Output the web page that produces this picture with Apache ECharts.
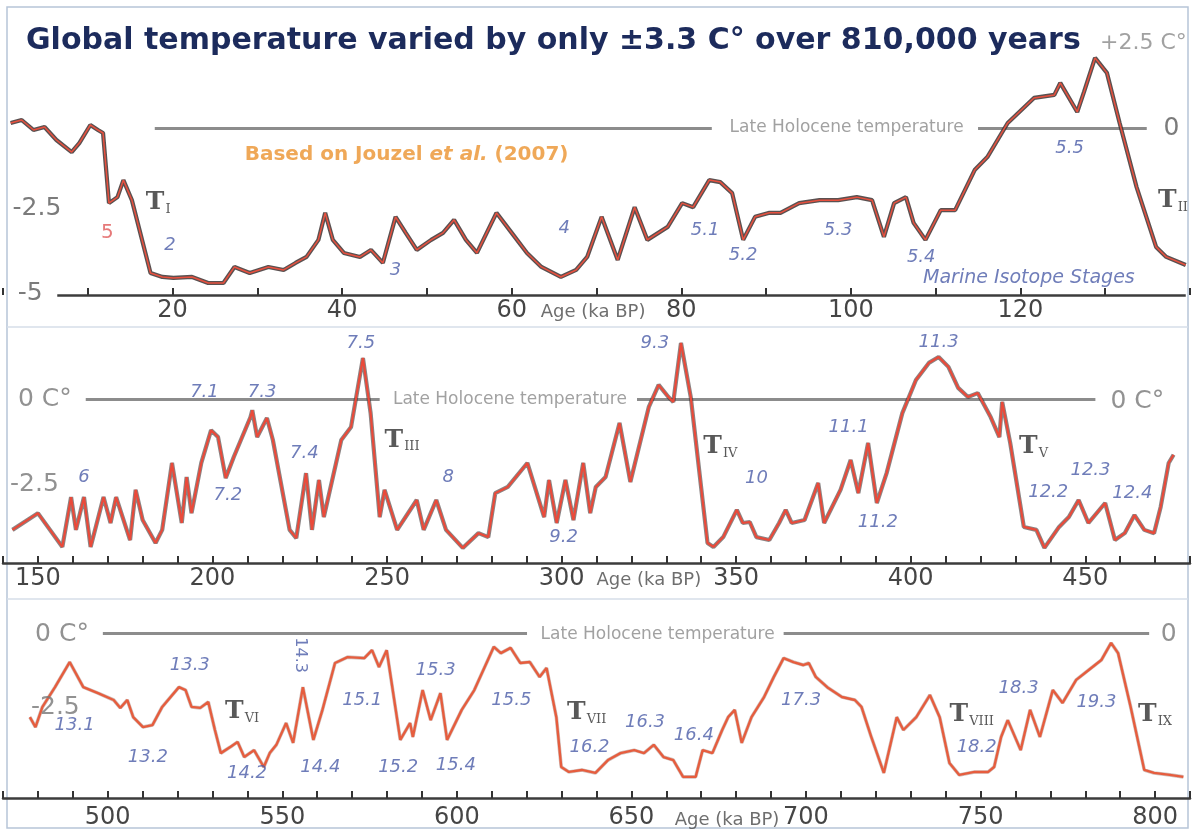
<!DOCTYPE html>
<html><head><meta charset="utf-8">
<script src="https://cdn.jsdelivr.net/npm/echarts@6/dist/echarts.min.js"></script>
<style>html,body{margin:0;padding:0;background:#fff}#c{width:1193px;height:831px}</style>
</head><body><div id="c"></div>
<script>
// ---------- DATA ----------
// Panel 1 : 0 – 140 ka
const ages1 = [0.9,2.2,3.6,4.9,6.3,8.1,9.0,10.3,11.2,11.8,12.5,13.5,14.2,15.2,17.4,18.8,20.1,22.3,24.2,26.0,27.3,29.1,31.3,33.1,34.5,35.8,37.2,38.0,38.9,40.2,42.1,43.4,44.8,46.3,47.5,48.8,50.5,51.9,53.2,54.6,55.9,58.2,60.0,61.8,63.5,65.8,67.6,68.9,70.6,72.5,74.5,76.0,78.4,80.1,81.4,83.3,84.6,86.0,87.3,88.7,90.4,91.7,93.9,96.3,98.5,100.7,102.5,103.9,105.1,106.5,107.4,108.8,110.6,112.3,114.6,116.1,118.5,121.6,124.0,124.7,126.7,127.5,128.8,130.2,131.7,133.7,136.0,137.2,139.5];
const temps1 = [0.15,0.24,-0.06,0.03,-0.36,-0.72,-0.45,0.09,-0.06,-0.15,-2.25,-2.07,-1.56,-2.16,-4.34,-4.46,-4.49,-4.46,-4.64,-4.64,-4.16,-4.34,-4.16,-4.25,-4.04,-3.86,-3.35,-2.54,-3.35,-3.74,-3.86,-3.65,-4.04,-2.66,-3.14,-3.65,-3.35,-3.14,-2.75,-3.35,-3.74,-2.54,-3.14,-3.74,-4.16,-4.46,-4.25,-3.86,-2.66,-3.95,-2.37,-3.35,-2.96,-2.25,-2.37,-1.56,-1.62,-1.95,-3.35,-2.66,-2.54,-2.54,-2.25,-2.16,-2.16,-2.07,-2.16,-3.26,-2.25,-2.07,-2.84,-3.35,-2.46,-2.46,-1.26,-0.87,0.15,0.90,0.99,1.35,0.48,1.08,2.10,1.65,0.15,-1.77,-3.56,-3.86,-4.10];
// Panel 2 : 140 – 475 ka
const ages2 = [142.7,150.0,157.0,159.5,160.9,163.2,165.1,168.8,170.8,172.4,176.4,178.0,180.0,183.7,185.6,188.4,191.2,192.6,194.0,196.8,199.6,201.6,203.8,206.1,210.9,211.4,212.8,215.6,217.3,222.1,224.0,226.8,228.5,230.5,231.9,236.9,239.7,243.1,245.3,247.9,249.3,252.9,258.5,260.5,264.1,266.9,271.7,276.2,279.0,281.0,284.6,290.2,295.0,296.4,298.6,301.1,303.4,306.2,308.2,309.8,312.6,316.6,319.7,325.0,327.8,330.6,332.0,334.2,337.0,341.8,343.5,346.3,350.2,351.9,353.9,355.8,359.5,362.3,364.2,365.9,369.6,373.5,375.2,379.9,382.8,385.0,387.8,390.3,393.1,397.6,401.5,405.2,408.0,410.8,413.6,416.4,419.2,422.9,425.4,426.2,428.5,432.4,436.0,438.3,442.5,445.3,448.1,450.9,455.7,458.5,461.3,464.1,466.9,469.7,471.6,473.9,475.3];
const temps2 = [-3.99,-3.48,-4.51,-2.99,-3.99,-2.99,-4.51,-2.99,-3.78,-2.99,-4.30,-2.77,-3.69,-4.39,-3.99,-1.95,-3.78,-2.38,-3.48,-1.95,-0.95,-1.16,-2.41,-1.77,-0.55,-0.34,-1.16,-0.58,-1.25,-3.99,-4.24,-2.26,-3.99,-2.47,-3.60,-1.25,-0.85,1.25,-0.43,-3.60,-2.77,-3.99,-3.08,-3.99,-3.08,-3.99,-4.54,-4.09,-4.21,-2.87,-2.68,-1.95,-3.60,-2.47,-3.78,-2.47,-3.69,-1.95,-3.48,-2.68,-2.38,-0.73,-2.53,-0.24,0.43,0.06,-0.09,1.71,0.06,-4.39,-4.51,-4.21,-3.38,-3.78,-3.75,-4.21,-4.30,-3.78,-3.38,-3.78,-3.69,-2.56,-3.78,-2.77,-1.86,-2.87,-1.34,-3.17,-2.26,-0.43,0.58,1.10,1.28,0.98,0.34,0.06,0.18,-0.55,-1.16,-0.09,-1.34,-3.90,-3.99,-4.54,-3.90,-3.60,-3.08,-3.78,-3.17,-4.30,-4.09,-3.54,-3.99,-4.09,-3.29,-1.95,-1.70];
// Panel 3 : 475 – 810 ka
const ages3 = [477.7,479.3,481.3,484.9,489.1,493.0,497.2,501.7,503.6,505.6,507.3,510.1,512.8,515.6,520.4,522.3,524.0,526.5,528.8,530.7,532.4,535.2,537.2,539.1,541.9,544.7,546.4,548.3,551.1,553.1,555.9,558.9,561.5,565.1,568.7,573.5,575.7,577.7,579.9,583.8,586.6,587.4,590.2,592.5,595.3,597.2,601.4,605.0,610.6,612.6,615.4,618.2,620.9,623.7,625.7,628.5,629.9,632.1,635.8,639.7,643.3,646.9,650.8,653.6,656.4,659.2,662.0,664.8,668.4,670.4,673.2,676.0,677.7,679.6,681.6,684.4,688.0,690.8,693.6,696.4,699.2,700.8,702.8,706.4,710.3,714.0,715.9,718.7,722.3,726.0,727.9,731.6,735.5,738.3,741.1,743.9,748.3,752.2,753.9,755.9,757.8,761.5,764.2,767.0,770.7,773.5,777.4,781.0,784.6,787.4,789.4,793.0,796.9,799.7,804.2,808.1];
const temps3 = [-2.55,-2.85,-2.24,-1.64,-0.88,-1.64,-1.82,-2.03,-2.27,-2.03,-2.55,-2.85,-2.79,-2.24,-1.64,-1.73,-2.24,-2.27,-2.09,-2.94,-3.64,-3.45,-3.30,-3.76,-3.55,-4.06,-3.64,-3.39,-2.73,-3.33,-1.64,-3.24,-2.33,-0.91,-0.73,-0.76,-0.52,-1.03,-0.52,-3.24,-2.73,-3.15,-1.73,-2.64,-1.82,-3.24,-2.33,-1.73,-0.42,-0.61,-0.45,-0.91,-0.88,-1.33,-1.06,-2.55,-4.06,-4.21,-4.15,-4.24,-3.85,-3.64,-3.55,-3.64,-3.39,-3.76,-3.85,-4.36,-4.36,-3.55,-3.64,-2.94,-2.55,-2.33,-3.33,-2.55,-1.94,-1.33,-0.76,-0.88,-0.97,-0.91,-1.33,-1.67,-1.94,-2.03,-2.24,-3.15,-4.24,-2.55,-2.94,-2.55,-1.88,-2.55,-3.94,-4.30,-4.21,-4.21,-4.06,-3.15,-2.64,-3.55,-2.33,-3.15,-1.73,-2.12,-1.42,-1.12,-0.82,-0.30,-0.61,-2.24,-4.15,-4.24,-4.30,-4.36];

// Marine isotope stage labels [age, temp, text]
const stages1 = [[19.7,-3.50,'2'],[46.3,-4.25,'3'],[66.2,-2.99,'4'],[82.8,-3.05,'5.1'],[87.3,-3.80,'5.2'],[98.5,-3.05,'5.3'],[108.3,-3.86,'5.4'],[125.8,-0.60,'5.5']];
const stages2 = [[163.2,-2.38,'6'],[197.7,0.21,'7.1'],[214.2,0.21,'7.3'],[204.4,-2.93,'7.2'],[226.3,-1.65,'7.4'],[242.5,1.71,'7.5'],[267.5,-2.38,'8'],[300.6,-4.21,'9.2'],[326.7,1.71,'9.3'],[355.8,-2.41,'10'],[382.2,-0.85,'11.1'],[390.6,-3.75,'11.2'],[408.0,1.74,'11.3'],[439.4,-2.84,'12.2'],[451.5,-2.16,'12.3'],[463.5,-2.87,'12.4']];
const stages3 = [[490.5,-2.79,'13.1'],[523.5,-0.97,'13.3'],[511.5,-3.76,'13.2'],[539.9,-4.24,'14.2'],[560.9,-4.06,'14.4'],[572.9,-2.03,'15.1'],[583.2,-4.06,'15.2'],[593.9,-1.12,'15.3'],[599.7,-4.00,'15.4'],[615.6,-2.03,'15.5'],[638.0,-3.45,'16.2'],[653.9,-2.70,'16.3'],[667.9,-3.09,'16.4'],[698.6,-2.03,'17.3'],[748.9,-3.45,'18.2'],[760.9,-1.67,'18.3'],[783.2,-2.09,'19.3']];
const stagesRotated3 = [[555.0,-0.67,'14.3']];
// Terminations [age, temp, roman numeral]
const terms1 = [[18.3,-2.22,'I'],[138.0,-2.16,'II']];
const terms2 = [[254.3,-1.25,'III'],[345.5,-1.46,'IV'],[435.2,-1.46,'V']];
const terms3 = [[538.5,-2.39,'VI'],[637.2,-2.42,'VII'],[747.5,-2.48,'VIII'],[800.0,-2.48,'IX']];
// Temperature scale texts [age, temp, text]
const scale1 = [[4.0,-2.40,'-2.5'],[3.2,-4.97,'-5'],[137.8,0,'0']];
const scaleTop1 = [[134.5,2.54,'+2.5 C°']];
const scale2 = [[152.0,-0.03,'0 C°'],[149.0,-2.62,'-2.5'],[464.9,-0.09,'0 C°']];
const scale3 = [[486.9,-0.06,'0 C°'],[485.0,-2.27,'-2.5'],[803.9,-0.06,'0']];
// Late Holocene reference line segments and label
const holo1 = [[17.9,83.6],[115.0,134.9]];
const holo2 = [[163.7,247.9],[321.6,452.9]];
const holo3 = [[498.6,620.1],[693.6,798.3]];
const holoText = [[99.5,0],[285.2,-0.03],[657.5,-0.06]];
const holoLabel = 'Late Holocene temperature';
const ageText = [[69.6,-5.51],[325.0,-5.52],[677.4,-5.67]];
const ageLabel = 'Age (ka BP)';
const redFive = [[12.3,-3.14,'5']];
const sourceNote = [[47.6,-0.81]];
const stageTitle = [[121.0,-4.49,'Marine Isotope Stages']];
const titleText = 'Global temperature varied by only ±3.3 C° over 810,000 years';

// ---------- CHART ----------
const chart = echarts.init(document.getElementById('c'), null, {renderer:'canvas'});
const F = 'DejaVu Sans';
const panels = [
  {ages:ages1,temps:temps1,min:0,max:140,step:20,first:20,last:120,grid:{left:0,top:44.5,width:1197,height:250.5},ymin:-5,ymax:2.5,axisLine:false,margin:4,underC:'#3d3232',underW:4.2,under:0.85,red:'#e8503e',redW:1.5,holo:holo1},
  {ages:ages2,temps:temps2,min:140,max:480,step:50,first:150,last:450,grid:{left:-2.66,top:317,width:1212.4,height:246},ymin:-5,ymax:2.5,axisLine:true,margin:4,underC:'#3d3232',underW:4.2,under:0.6,red:'#ea4a3a',redW:2.2,holo:holo2},
  {ages:ages3,temps:temps3,min:470,max:810,step:50,first:500,last:800,grid:{left:-20.4,top:600,width:1217.2,height:198},ymin:-5,ymax:1,axisLine:true,margin:8,underC:'#7a4a40',underW:3.6,under:0.35,red:'#e65d3e',redW:2.4,holo:holo3}
];
const grids=[],xAxes=[],yAxes=[],series=[];
function textSeries(i, data, label){
  series.push({type:'scatter',xAxisIndex:i,yAxisIndex:i,symbol:'circle',symbolSize:2,itemStyle:{color:'rgba(255,255,255,0)'},clip:false,silent:true,z:10,
    data:data.map(d=>({value:[d[0],d[1]],name:d[2]})),
    label:Object.assign({show:true,position:'inside',formatter:p=>p.name},label),
    labelLayout:{hideOverlap:false}});
}
panels.forEach((p,i)=>{
  grids.push(Object.assign({containLabel:false},p.grid));
  xAxes.push({gridIndex:i,type:'value',min:p.min,max:p.max,interval:10,
    axisLine:{show:p.axisLine,onZero:false,lineStyle:{color:'#3c3c3c',width:2.5}},
    axisTick:{show:true,inside:true,length:7,lineStyle:{color:'#333',width:2}},
    axisLabel:{margin:p.margin,fontFamily:F,fontSize:24,color:'#454545',showMinLabel:true,showMaxLabel:true,
      formatter:v=>(v%p.step===0&&v>=p.first&&v<=p.last)?String(v):''},
    splitLine:{show:false}});
  yAxes.push({gridIndex:i,type:'value',min:p.ymin,max:p.ymax,show:false});
  const segs = p.holo.map(s=>[{coord:[s[0],0]},{coord:[s[1],0]}]);
  if(i===0) segs.push([{coord:[6.4,-5],lineStyle:{color:'#3c3c3c',width:2.5}},{coord:[139.5,-5]}]);
  series.push({type:'line',xAxisIndex:i,yAxisIndex:i,data:p.ages.map((a,k)=>[a,p.temps[k]]),showSymbol:false,silent:true,z:3,
    lineStyle:{color:p.underC,width:p.underW,opacity:p.under},
    markLine:{silent:true,symbol:['none','none'],z:1,label:{show:false},lineStyle:{color:'#8c8c8c',width:2.8,type:'solid'},data:segs}});
  series.push({type:'line',xAxisIndex:i,yAxisIndex:i,data:p.ages.map((a,k)=>[a,p.temps[k]]),showSymbol:false,silent:true,z:4,
    lineStyle:{color:p.red,width:p.redW}});
  textSeries(i,[[holoText[i][0],holoText[i][1],holoLabel]],{fontFamily:F,fontSize:17,color:'#8a8a8a'});
  textSeries(i,[[ageText[i][0],ageText[i][1],ageLabel]],{fontFamily:F,fontSize:18,color:'#4a4a4a'});
});
const stageStyle={fontFamily:F,fontSize:18,fontStyle:'italic',color:'#4b5ca8'};
textSeries(0,stages1,stageStyle);textSeries(1,stages2,stageStyle);textSeries(2,stages3,stageStyle);
textSeries(2,stagesRotated3,Object.assign({},stageStyle,{fontStyle:'normal',fontSize:16,rotate:-90}));
const termLabel={formatter:p=>'{t|T}{s|'+p.name+'}',rich:{t:{fontFamily:'DejaVu Serif',fontSize:25,color:'#303030',fontWeight:'bold'},s:{fontFamily:'DejaVu Serif',fontSize:13,color:'#303030',verticalAlign:'bottom',padding:[14,0,0,1]}}};
textSeries(0,terms1,termLabel);textSeries(1,terms2,termLabel);textSeries(2,terms3,termLabel);
const scaleStyle={fontFamily:F,fontSize:25,color:'#5a5a5a'};
textSeries(0,scale1,scaleStyle);textSeries(1,scale2,Object.assign({},scaleStyle,{color:'#777'}));textSeries(2,scale3,Object.assign({},scaleStyle,{color:'#777'}));
textSeries(0,scaleTop1,{fontFamily:F,fontSize:22,color:'#8a8a8a'});
textSeries(0,redFive,{fontFamily:F,fontSize:20,color:'#e05858'});
textSeries(0,stageTitle,{fontFamily:F,fontSize:19,fontStyle:'italic',color:'#4b5ca8'});
textSeries(0,sourceNote.map(d=>[d[0],d[1],'x']),{formatter:'{a|Based on Jouzel }{b|et al.}{a| (2007)}',
  rich:{a:{fontFamily:F,fontSize:20,fontWeight:'bold',color:'#eb922e'},b:{fontFamily:F,fontSize:20,fontWeight:'bold',fontStyle:'italic',color:'#eb922e'}}});

chart.setOption({
  animation:false,backgroundColor:'#ffffff',
  title:{text:titleText,left:21,top:21,textStyle:{fontFamily:F,fontWeight:'bold',fontSize:30,color:'#1c2b5c'}},
  graphic:[
    {type:'rect',shape:{x:7,y:7,width:1181,height:821},style:{fill:'none',stroke:'#b7c5d8',lineWidth:1.5},z:0,silent:true},
    {type:'line',shape:{x1:7,y1:327,x2:1188,y2:327},style:{stroke:'#d6dee8',lineWidth:1.5},silent:true},
    {type:'line',shape:{x1:7,y1:599,x2:1188,y2:599},style:{stroke:'#d6dee8',lineWidth:1.5},silent:true}
  ],
  grid:grids,xAxis:xAxes,yAxis:yAxes,series:series
});
</script></body></html>
